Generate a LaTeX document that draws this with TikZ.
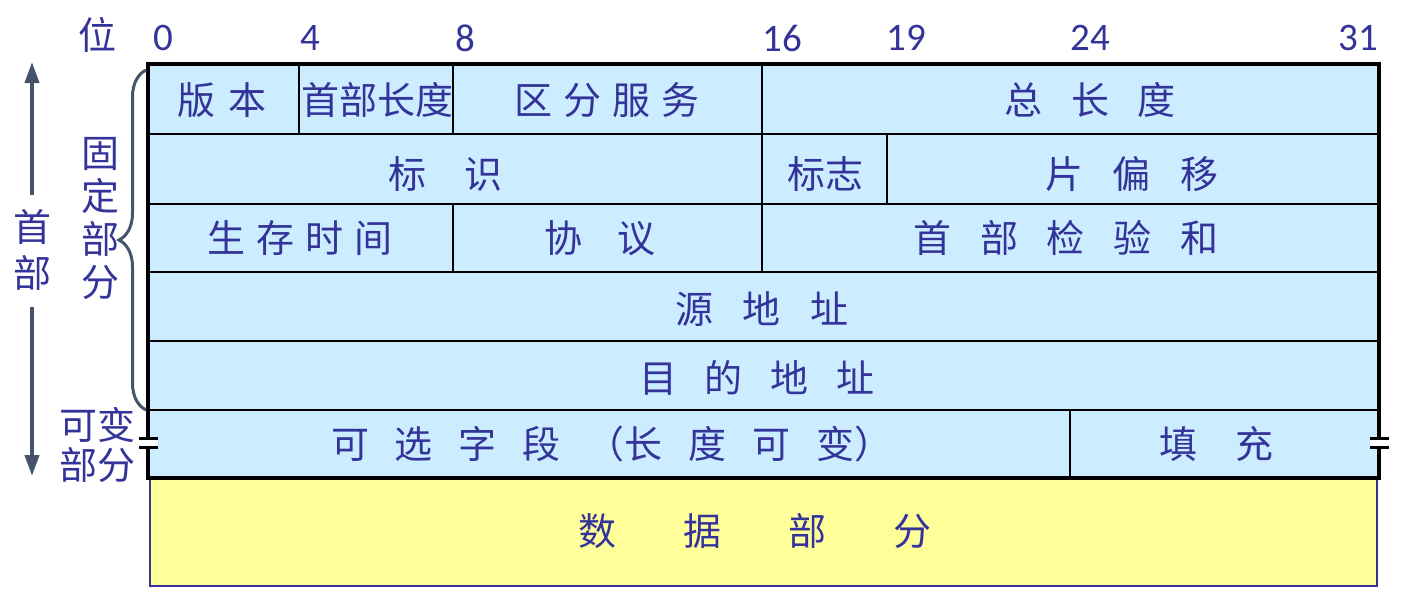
\documentclass[tikz,border=0pt]{standalone}
\usepackage{fontspec}
\setmainfont{Noto Sans CJK SC}
\newfontfamily\digitfont{Carlito}
\usetikzlibrary{arrows.meta,decorations.pathreplacing}
\definecolor{txt}{HTML}{333399}
\definecolor{cellfill}{HTML}{CCECFF}
\definecolor{datafill}{HTML}{FFFF99}
\definecolor{slate}{HTML}{44546A}
\newcommand{\mygap}[1]{\hspace{#1pt}}
\begin{document}
\begin{tikzpicture}[x=0.5pt,y=-0.5pt,
  lbl/.style={text=txt,font=\fontsize{19pt}{22pt}\selectfont,inner sep=0pt},
  bitlbl/.style={text=txt,font=\digitfont\fontsize{19.5pt}{22pt}\selectfont,inner sep=0pt},
  sidelbl/.style={text=txt,font=\fontsize{19pt}{21.5pt}\selectfont,inner sep=0pt,align=center},
  cellline/.style={black,line width=0.8pt},
  border/.style={black,line width=2pt},
  breakmark/.style={black,line width=1.6pt}]
\useasboundingbox (0,0) rectangle (1404,606);
% header background
\fill[cellfill] (148,64) rectangle (1379,478);
% data part
\draw[draw=txt,fill=datafill,line width=0.7pt] (150,479) rectangle (1377,586);
% row separators
\foreach \yy in {134,204,272,341,410} \draw[cellline] (148,\yy) -- (1379,\yy);
% column separators
\draw[cellline] (299,64) -- (299,134);
\draw[cellline] (453,64) -- (453,134);
\draw[cellline] (762,64) -- (762,272);
\draw[cellline] (887,134) -- (887,204);
\draw[cellline] (453,204) -- (453,272);
\draw[cellline] (1070,410) -- (1070,478);
% outer border
\draw[border] (148,64) rectangle (1379,478);
% break marks
\fill[white] (140,440) rectangle (158,446);
\fill[white] (1370,440) rectangle (1389,446);
\draw[breakmark] (139,438.5) -- (158,438.5);
\draw[breakmark] (139,447.5) -- (158,447.5);
\draw[breakmark] (1370,438.5) -- (1389,438.5);
\draw[breakmark] (1370,447.5) -- (1389,447.5);
% bit numbers
\node[lbl] (wei) at (97,35) {位};
\node[bitlbl] (b0) at (163,38) {0};
\node[bitlbl] (b4) at (310,38) {4};
\node[bitlbl] (b8) at (465,38) {8};
\node[bitlbl] (b16) at (782,38) {16};
\node[bitlbl] (b19) at (906,38) {19};
\node[bitlbl] (b24) at (1090,38) {24};
\node[bitlbl] (b31) at (1358,38) {31};
% fields
\node[lbl] (ver) at (222,100) {版\mygap{6.5}本};
\node[lbl] (ihl) at (377,100) {首部长度};
\node[lbl] (tos) at (607,100) {区\mygap{5.5}分\mygap{5.5}服\mygap{5.5}务};
\node[lbl] (len) at (1090,100) {总\mygap{14.5}长\mygap{14.5}度};
\node[lbl] (id) at (445,174) {标\mygap{19}识};
\node[lbl] (flag) at (825,174) {标志};
\node[lbl] (frag) at (1132,174) {片\mygap{15}偏\mygap{15}移};
\node[lbl] (ttl) at (300,238) {生\mygap{5.5}存\mygap{5.5}时\mygap{5.5}间};
\node[lbl] (proto) at (600,238) {协\mygap{18}议};
\node[lbl] (csum) at (1066,238) {首\mygap{14.5}部\mygap{14.5}检\mygap{14.5}验\mygap{14.5}和};
\node[lbl] (src) at (762,309) {源\mygap{15}地\mygap{15}址};
\node[lbl] (dst) at (757,378) {目\mygap{14}的\mygap{14}地\mygap{14}址};
\node[lbl] (opt) at (612,444) {可\mygap{13}选\mygap{13}字\mygap{13}段\mygap{13}（长\mygap{13}度\mygap{13}可\mygap{13}变）};
\node[lbl] (pad) at (1216,444) {填\mygap{19}充};
\node[lbl] (data) at (755,531) {数\mygap{33.5}据\mygap{33.5}部\mygap{33.5}分};
% side labels
\node[sidelbl,font=\fontsize{19pt}{23pt}\selectfont] (hdr) at (32,250) {首\\部};
\node[sidelbl] (fixed) at (100,219) {固\\定\\部\\分};
\node[sidelbl,font=\fontsize{19pt}{20pt}\selectfont] (var) at (97,445) {可变\\部分};
% header arrow
\coordinate (atop) at (32,62);
\coordinate (abot) at (32,476);
\draw[slate,line width=2pt,-{Triangle[length=10.5pt,width=7pt]}] (hdr.north |- 0,195) -- (atop);
\draw[slate,line width=2pt,-{Triangle[length=10.5pt,width=7pt]}] (hdr.south |- 0,307) -- (abot);
% brace
\draw[slate,line width=1.5pt,decorate,decoration={brace,amplitude=13.5pt}] (146,410) -- (146,70);
\end{tikzpicture}
\end{document}
